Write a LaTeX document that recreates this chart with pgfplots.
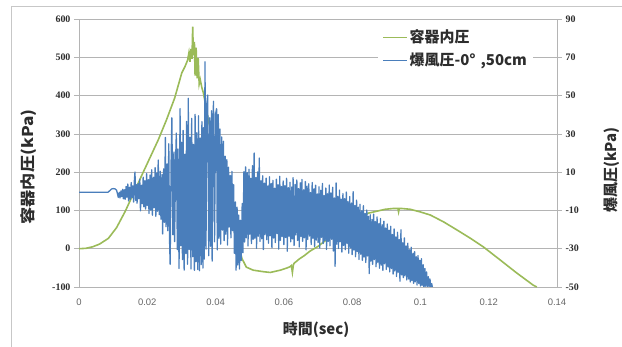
\documentclass[border=0pt]{standalone}
\usepackage{graphicx}
\usepackage{pgfplots}
\pgfplotsset{compat=1.18}
\usepackage{pgfplotstable}
\usepackage{fontspec}
\setmainfont{Noto Sans CJK JP}
\newfontfamily\tickserif{Liberation Serif}
\newfontfamily\ticksans{Liberation Sans}
\definecolor{exgreen}{RGB}{155,187,89}
\definecolor{exblue}{RGB}{74,126,187}
\definecolor{gridc}{RGB}{180,180,180}
\definecolor{txt}{RGB}{45,45,45}

\pgfplotstableread{
t p
0 0
0.002 1
0.004 5
0.006 12
0.0086 27
0.011 55
0.0135 97
0.016 145
0.0184 192
0.0208 238
0.0232 284
0.0256 336
0.028 393
0.0301 459
0.031 475
0.0318 492
0.0322 512
0.0325 488
0.0328 522
0.0331 496
0.0333 580
0.0335 505
0.0338 540
0.0340 452
0.0343 525
0.0346 445
0.0349 498
0.0352 430
0.0355 442
0.0360 420
0.0364 408
0.0370 380
0.0380 330
0.0400 270
0.0430 160
0.0460 40
0.0477 -25
0.0490 -48
0.0510 -56
0.0540 -60
0.0560 -62
0.0590 -56
0.0610 -50
0.0618 -47
0.0622 -44
0.0625 -62
0.0628 -42
0.0630 -38
0.0645 -27
0.0660 -18
0.0677 -6
0.0700 6
0.0750 41
0.0800 70
0.0848 93
0.0897 103
0.0920 105
0.0934 105
0.0936 96
0.0938 105
0.0946 105
0.0970 103
0.1000 96
0.1029 88
0.1068 70
0.1107 49
0.1145 28
0.1184 5
0.1233 -29
0.1280 -62
0.1330 -95
0.1341 -100
}\greendata

\pgfplotstableread{
t p
0 -0.5
0.0085 -0.5
0.009 0.3
0.0095 1.2
0.0100 1.4
0.0105 1.3
0.0110 0.6
0.0113 -1.5
0.0115 -3.2
0.0118 -0.5
0.0120 -3.5
0.0123 0.2
0.0125 -2.8
0.0128 1.0
0.0130 -3.9
0.0133 0.8
0.0135 -4.2
0.0138 2.5
0.0140 -3.1
0.0143 3.8
0.0145 -5.0
0.0148 2.1
0.0150 -4.3
0.0153 4.6
0.0155 -3.4
0.0158 2.8
0.0160 -5.6
0.0162 5.2
0.0164 10.1
0.0166 -4.8
0.0168 3.5
0.0170 -6.2
0.0173 4.0
0.0175 -3.9
0.0178 6.3
0.0180 -10.2
0.0183 3.1
0.0185 -6.5
0.0188 7.4
0.0190 -8.1
0.0193 5.6
0.0195 -9.3
0.0198 9.2
0.0200 -7.4
0.0203 6.1
0.0205 -11.6
0.0208 8.5
0.0210 -9.8
0.0213 11.2
0.0215 -12.5
0.0218 7.3
0.0220 -8.6
0.0223 12.4
0.0225 -13.1
0.0228 9.6
0.0230 -10.4
0.0232 16.3
0.0235 -12.2
0.0238 10.5
0.0240 -14.6
0.0243 8.8
0.0245 -22.3
0.0248 11.7
0.0250 -16.2
0.0253 28.1
0.0255 -18.5
0.0258 14.3
0.0260 -20.6
0.0263 24.8
0.0265 -24.1
0.0267 -38.2
0.0270 18.6
0.0272 38.4
0.0275 -22.7
0.0278 20.5
0.0280 -26.3
0.0283 16.2
0.0285 30.4
0.0288 -30.5
0.0290 22.1
0.0293 -40.3
0.0296 43.2
0.0298 -28.4
0.0300 25.6
0.0303 -35.7
0.0305 31.8
0.0308 -41.2
0.0310 19.4
0.0313 -32.6
0.0315 36.5
0.0318 -38.1
0.0320 48.6
0.0323 -30.4
0.0325 28.2
0.0328 -40.6
0.0330 38.1
0.0333 -34.2
0.0335 24.5
0.0338 -41.3
0.0340 40.2
0.0343 -36.8
0.0345 30.6
0.0348 -40.9
0.0350 39.5
0.0353 -41.5
0.0355 27.8
0.0358 -38.3
0.0360 36.4
0.0363 -40.1
0.0365 33.2
0.0367 -35.4
0.0369 67.6
0.0372 -30.2
0.0374 45.1
0.0377 50.3
0.0380 -33.6
0.0383 38.4
0.0385 -28.7
0.0388 42.1
0.0390 -36.5
0.0392 35.6
0.0394 47.0
0.0397 -26.4
0.0400 40.3
0.0403 43.2
0.0405 -30.6
0.0408 40.1
0.0410 -24.5
0.0413 32.5
0.0415 -27.6
0.0418 28.4
0.0420 -20.3
0.0423 26.1
0.0425 -25.8
0.0428 18.3
0.0430 -22.4
0.0433 16.5
0.0435 -28.1
0.0438 12.6
0.0440 -18.7
0.0443 8.2
0.0445 -24.3
0.0448 10.4
0.0450 -20.6
0.0453 3.5
0.0455 -32.4
0.0458 -5.6
0.0460 -41.2
0.0463 -8.3
0.0465 -38.5
0.0468 -12.4
0.0470 -40.6
0.0473 -15.1
0.0475 -36.2
0.0478 -6.4
0.0480 -32.1
0.0483 10.3
0.0485 -26.5
0.0488 12.8
0.0490 -24.3
0.0493 9.7
0.0495 -28.6
0.0498 11.5
0.0500 -22.4
0.0503 6.8
0.0505 -27.3
0.0508 13.4
0.0510 -25.1
0.0513 20.0
0.0515 -24.6
0.0518 7.2
0.0520 -29.8
0.0523 10.1
0.0525 -23.5
0.0528 17.4
0.0530 -26.2
0.0533 5.5
0.0535 -24.8
0.0538 8.1
0.0540 -30.4
0.0543 4.3
0.0545 -22.7
0.0548 6.9
0.0550 -25.3
0.0553 2.8
0.0555 -27.1
0.0558 7.6
0.0560 -23.2
0.0563 4.1
0.0565 -29.5
0.0568 5.7
0.0570 -24.4
0.0573 1.6
0.0575 -26.8
0.0578 6.3
0.0580 -22.1
0.0583 3.4
0.0585 -30.2
0.0588 7.8
0.0590 -25.6
0.0593 2.5
0.0595 -23.7
0.0598 5.4
0.0600 -27.9
0.0603 3.0
0.0605 -24.1
0.0608 6.8
0.0610 -31.3
0.0613 1.9
0.0615 -23.5
0.0618 4.7
0.0620 -26.4
0.0623 2.2
0.0625 -24.9
0.0627 7.1
0.0630 -28.3
0.0633 3.6
0.0635 -22.8
0.0638 5.9
0.0640 -25.7
0.0643 1.4
0.0645 -29.1
0.0648 4.5
0.0650 -23.6
0.0653 6.2
0.0655 -26.1
0.0658 0.8
0.0660 -24.3
0.0663 5.1
0.0665 -30.6
0.0668 2.7
0.0670 -25.2
0.0673 3.9
0.0675 -23.4
0.0678 -0.6
0.0680 -27.8
0.0683 4.6
0.0685 -24.6
0.0688 1.3
0.0690 -28.9
0.0693 3.2
0.0695 -25.5
0.0698 -1.4
0.0700 -26.7
0.0703 2.4
0.0705 -29.6
0.0708 0.5
0.0710 -24.1
0.0713 4.1
0.0715 -27.3
0.0718 -2.2
0.0720 -25.8
0.0723 1.7
0.0725 -30.4
0.0728 -1.3
0.0730 -26.2
0.0733 3.3
0.0735 -28.5
0.0738 -0.9
0.0740 -25.1
0.0743 2.1
0.0745 -31.2
0.0748 -3.5
0.0750 -39.2
0.0753 4.4
0.0755 -27.7
0.0758 -2.6
0.0760 -29.9
0.0763 0.6
0.0765 -26.4
0.0768 -4.1
0.0770 -31.8
0.0773 -1.2
0.0775 -28.3
0.0778 -3.8
0.0780 -30.5
0.0783 -0.4
0.0785 -27.2
0.0788 -5.3
0.0790 -32.4
0.0793 -2.7
0.0795 -29.6
0.0798 -6.1
0.0800 -33.1
0.0803 -0.2
0.0805 -30.7
0.0808 -7.4
0.0810 -34.2
0.0813 -4.6
0.0815 -31.5
0.0818 -8.3
0.0820 -35.6
0.0823 -6.8
0.0825 -32.9
0.0828 -10.2
0.0830 -36.1
0.0833 -7.5
0.0835 -34.4
0.0838 -11.6
0.0840 -37.2
0.0843 -9.8
0.0845 -33.8
0.0848 -13.1
0.0850 -43.0
0.0853 -12.3
0.0855 -36.5
0.0858 -14.7
0.0860 -38.2
0.0863 -11.9
0.0865 -35.7
0.0868 -15.8
0.0870 -39.4
0.0873 -13.4
0.0875 -37.1
0.0878 -16.9
0.0880 -40.2
0.0883 -14.2
0.0885 -38.6
0.0888 -17.5
0.0890 -41.3
0.0893 -15.6
0.0895 -37.9
0.0898 -19.2
0.0900 -40.8
0.0903 -17.1
0.0905 -39.5
0.0908 -20.4
0.0910 -42.1
0.0913 -18.3
0.0915 -40.4
0.0918 -22.6
0.0920 -43.2
0.0923 -19.7
0.0925 -41.6
0.0928 -23.8
0.0930 -44.5
0.0933 -21.4
0.0935 -42.3
0.0938 -25.2
0.0940 -47.0
0.0943 -20.1
0.0945 -43.7
0.0948 -26.9
0.0950 -45.1
0.0953 -24.3
0.0955 -44.2
0.0958 -28.5
0.0960 -46.3
0.0963 -27.1
0.0965 -45.8
0.0968 -30.6
0.0970 -47.4
0.0973 -29.2
0.0975 -46.6
0.0978 -32.4
0.0980 -48.1
0.0983 -31.5
0.0985 -47.3
0.0988 -34.2
0.0990 -49.0
0.0993 -33.6
0.0995 -48.2
0.0998 -36.1
0.1000 -49.5
0.1003 -35.2
0.1005 -49.1
0.1008 -38.4
0.1010 -50.0
0.1013 -40.3
0.1015 -49.6
0.1018 -42.1
0.1020 -50.0
0.1023 -44.6
0.1025 -50.0
0.1028 -45.8
0.1030 -50.0
0.1033 -48.2
0.1035 -50.0
}\bluedata

\begin{document}
\begin{tikzpicture}
\path[use as bounding box] (-79bp,-60bp) rectangle (543bp,287bp);
\draw[black!22, line width=0.8bp] (-68bp,-60bp) -- (-68bp,281bp) -- (543bp,281bp);
\begin{axis}[
  at={(0,0)}, anchor=south west,
  width=478bp, height=268bp, scale only axis,
  xmin=0, xmax=0.14, ymin=-100, ymax=600,
  xtick={0,0.02,0.04,0.06,0.08,0.1,0.12,0.14},
  xticklabels={0,0.02,0.04,0.06,0.08,0.1,0.12,0.14},
  ytick={-100,0,100,200,300,400,500,600},
  ymajorgrids, grid style={gridc, line width=0.7bp},
  axis line style={gridc, line width=0.8bp},
  tick align=outside,
  major tick length=5bp,
  xtick style={draw=none},
  ytick style={gridc, line width=0.7bp},
  ytick pos=left,
  /pgf/number format/assume math mode=true,
  yticklabel style={font=\tickserif\bfseries\fontsize{10}{10}\selectfont, text=txt},
  xticklabel style={font=\ticksans\fontsize{9.5}{10}\selectfont, text=black!60, yshift=-3bp},
  xlabel={\bfseries 時間(sec)},
  xlabel style={at={(axis description cs:0.496,-0.160)}, anchor=center, font=\fontsize{15}{15}\selectfont, text=txt},
  ylabel={\scalebox{1.15}[1]{\bfseries 容器内圧(kPa)}},
  ylabel style={at={(axis description cs:-0.1046,0.448)}, anchor=center, font=\fontsize{15}{15}\selectfont, text=txt},
]
\addplot[exgreen, line width=1.6bp] table {\greendata};
\end{axis}
\begin{axis}[
  at={(0,0)}, anchor=south west,
  width=478bp, height=268bp, scale only axis,
  xmin=0, xmax=0.14, ymin=-50, ymax=90,
  axis y line*=right, axis x line=none,
  ytick={-50,-30,-10,10,30,50,70,90},
  axis line style={gridc, line width=0.8bp},
  tick align=outside,
  major tick length=5bp,
  ytick style={gridc, line width=0.7bp},
  /pgf/number format/assume math mode=true,
  yticklabel style={font=\tickserif\bfseries\fontsize{10}{10}\selectfont, text=txt},
  ylabel={\bfseries 爆風圧(kPa)},
  ylabel style={at={(axis description cs:1.115,0.437)}, anchor=center, font=\fontsize{15}{15}\selectfont, text=txt},
  legend style={at={(axis description cs:0.626,0.978)}, anchor=north west, draw=none, fill=white,
    font=\fontsize{15}{15}\selectfont\bfseries, text=txt, row sep=5bp, inner xsep=4bp, inner ysep=3bp},
  legend cell align=left,
  legend image code/.code={\draw[#1] (0bp,0bp) -- (24bp,0bp);},
]
\addlegendimage{exgreen, line width=1bp}
\addlegendentry{容器内圧}
\addplot[exblue, line width=1.3bp, line join=round] table {\bluedata};
\addlegendentry{爆風圧-0°\,\,,50cm}
\end{axis}
\end{tikzpicture}
\end{document}
